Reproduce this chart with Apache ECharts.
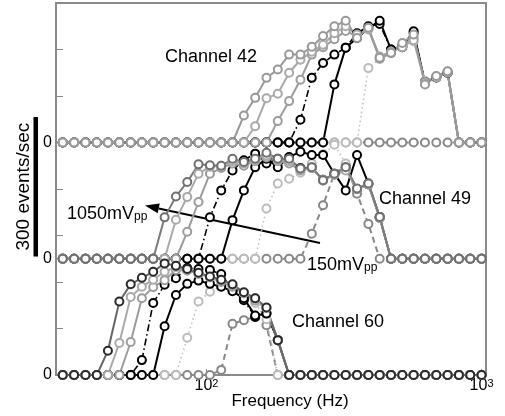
<!DOCTYPE html>
<html><head><meta charset="utf-8">
<script src="https://cdn.jsdelivr.net/npm/echarts@6/dist/echarts.min.js"></script>
<style>html,body{margin:0;padding:0;background:#fff}#c{width:505px;height:416px}</style>
</head><body><div id="c"></div>
<script>
// Stimulus frequencies (Hz), 38 log-spaced steps from 30 Hz to 1 kHz
const freqs = [30.0,33.0,36.3,39.9,43.8,48.2,53.0,58.2,64.0,70.4,77.4,85.1,93.5,102.9,113.1,124.3,136.7,150.3,165.2,181.6,199.7,219.5,241.4,265.3,291.7,320.7,352.6,387.7,426.2,468.6,515.1,566.3,622.7,684.6,752.6,827.4,909.7,1000];
const xTickExponents = [2, 3];
const yTickLabel = '0';

// Channel 42 (events/sec)
const ch42_1050 = [0,0,0,0,0,0,0,0,0,0,0,0,0,0,0,0,58,96,139,157,189,189,206,229,250,262,225,247,182,193,214,232,125,143,153,0,0,0];
const ch42_900  = [0,0,0,0,0,0,0,0,0,0,0,0,0,0,0,0,0,35,95,105,150,178,195,210,235,250,232,243,185,195,205,220,128,140,150,0,0,0];
const ch42_750  = [0,0,0,0,0,0,0,0,0,0,0,0,0,0,0,0,0,0,0,46,89,135,189,205,222,240,228,245,180,192,208,225,130,142,152,0,0,0];
const ch42_600  = [0,0,0,0,0,0,0,0,0,0,0,0,0,0,0,0,0,0,0,0,0,49,139,171,189,204,235,250,255,200,205,236,130,140,150,0,0,0];
const ch42_450  = [0,0,0,0,0,0,0,0,0,0,0,0,0,0,0,0,0,0,0,0,0,0,0,0,125,204,225,245,262,200,207,239,128,140,150,0,0,0];
const ch42_300  = [0,0,0,0,0,0,0,0,0,0,0,0,0,0,0,0,0,0,0,0,0,0,0,0,0,0,0,160,180,193,205,218,132,141,152,0,0,0];
const ch42_150  = [0,0,0,0,0,0,0,0,0,0,0,0,0,0,0,0,0,0,0,0,0,0,0,0,0,0,0,0,0,0,0,0,0,0,0,0,0,0];

// Channel 49
const ch49_1050 = [0,0,0,0,0,0,0,0,0,89,134,165,203,201,200,215,208,215,228,215,215,194,197,169,183,197,151,162,90,0,0,0,0,0,0,0,0,0];
const ch49_900  = [0,0,0,0,0,0,0,0,0,0,84,133,183,198,200,210,205,212,222,212,210,192,195,170,180,190,150,160,88,0,0,0,0,0,0,0,0,0];
const ch49_750  = [0,0,0,0,0,0,0,0,0,0,0,58,122,183,195,205,200,210,218,210,205,190,195,168,182,195,150,160,88,0,0,0,0,0,0,0,0,0];
const ch49_600  = [0,0,0,0,0,0,0,0,0,0,0,0,0,89,147,190,212,226,205,215,210,195,196,170,182,196,150,160,88,0,0,0,0,0,0,0,0,0];
const ch49_450  = [0,0,0,0,0,0,0,0,0,0,0,0,0,0,0,83,147,197,215,197,219,230,223,223,183,147,223,162,90,0,0,0,0,0,0,0,0,0];
const ch49_300  = [0,0,0,0,0,0,0,0,0,0,0,0,0,0,0,0,0,0,108,162,172,185,205,225,245,205,150,160,88,0,0,0,0,0,0,0,0,0];
const ch49_150  = [0,0,0,0,0,0,0,0,0,0,0,0,0,0,0,0,0,0,0,0,0,0,54,115,183,201,140,75,0,0,0,0,0,0,0,0,0,0];

// Channel 60
const ch60_1050 = [0,0,0,0,52,158,195,209,222,240,235,228,220,212,205,195,178,165,145,75,0,0,0,0,0,0,0,0,0,0,0,0,0,0,0,0,0,0];
const ch60_900  = [0,0,0,0,0,69,168,190,205,222,232,225,218,210,203,193,176,165,144,75,0,0,0,0,0,0,0,0,0,0,0,0,0,0,0,0,0,0];
const ch60_750  = [0,0,0,0,0,0,71,165,189,204,226,225,218,210,200,190,176,160,144,75,0,0,0,0,0,0,0,0,0,0,0,0,0,0,0,0,0,0];
const ch60_600  = [0,0,0,0,0,0,0,32,155,194,208,230,228,226,217,183,161,125,133,75,0,0,0,0,0,0,0,0,0,0,0,0,0,0,0,0,0,0];
const ch60_450  = [0,0,0,0,0,0,0,0,0,105,172,196,203,196,190,180,165,128,132,75,0,0,0,0,0,0,0,0,0,0,0,0,0,0,0,0,0,0];
const ch60_300  = [0,0,0,0,0,0,0,0,0,0,0,80,158,179,190,185,170,155,120,0,0,0,0,0,0,0,0,0,0,0,0,0,0,0,0,0,0,0];
const ch60_150  = [0,0,0,0,0,0,0,0,0,0,0,0,0,0,11,110,118,125,107,0,0,0,0,0,0,0,0,0,0,0,0,0,0,0,0,0,0,0];

const channels = [
  {offset: 500, d: {150: ch42_150, 300: ch42_300, 450: ch42_450, 600: ch42_600, 750: ch42_750, 900: ch42_900, 1050: ch42_1050}, line1050: '#999999', mark1050: '#999999'},
  {offset: 250, d: {150: ch49_150, 300: ch49_300, 450: ch49_450, 600: ch49_600, 750: ch49_750, 900: ch49_900, 1050: ch49_1050}, line1050: '#7c7c7c', mark1050: '#707070'},
  {offset: 0,   d: {150: ch60_150, 300: ch60_300, 450: ch60_450, 600: ch60_600, 750: ch60_750, 900: ch60_900, 1050: ch60_1050}, line1050: '#666666', mark1050: '#2a2a2a'}
];

// drawing order bottom -> top
const drawOrder = [150, 300, 600, 450, 750, 900, 1050];
function styleFor(level, ch) {
  switch (level) {
    case 150: return {color: '#888888', width: 2, type: [6, 4]};
    case 300: return {color: '#bdbdbd', width: 1.5, type: [1.5, 3]};
    case 600: return {color: '#000000', width: 1.6, type: [7, 3, 1.5, 3]};
    case 450: return {color: '#000000', width: 2, type: 'solid'};
    case 750: return {color: '#9c9c9c', width: 2, type: 'solid'};
    case 900: return {color: '#a9a9a9', width: 2, type: 'solid'};
    case 1050: return {color: ch.line1050, mark: ch.mark1050, width: 2, type: 'solid'};
  }
}

const series = [];
channels.forEach(ch => {
  drawOrder.forEach(level => {
    const st = styleFor(level, ch);
    const mk = st.mark || st.color;
    series.push({
      type: 'line',
      clip: false,
      data: freqs.map((f, i) => [f, ch.d[level][i] + ch.offset]),
      symbol: 'emptyCircle',
      symbolSize: 8,
      lineStyle: {color: st.color, width: st.width, type: st.type},
      itemStyle: {color: mk, borderColor: mk, borderWidth: 2},
      emphasis: {disabled: true},
      animation: false
    });
  });
});

const FONT = 'Liberation Sans, Arial, sans-serif';
const chart = echarts.init(document.getElementById('c'), null, {renderer: 'canvas'});
const option = {
  backgroundColor: '#ffffff',
  animation: false,
  grid: {left: 56, right: 19, top: 3, bottom: 41, show: true, borderColor: '#8a8a8a', borderWidth: 2, backgroundColor: 'transparent'},
  xAxis: {
    type: 'log', logBase: 10, min: 28.36, max: 1038,
    axisLine: {show: false},
    splitLine: {show: false},
    minorTick: {show: false},
    axisTick: {show: true, inside: true, length: 6, lineStyle: {color: '#8a8a8a', width: 1}},
    axisLabel: {
      margin: 3,
      formatter: function (v) {
        const e = Math.log10(v), r = Math.round(e);
        if (Math.abs(e - r) < 1e-6 && xTickExponents.indexOf(r) >= 0) return '{b|10}{s|' + r + '}';
        return '';
      },
      rich: {
        b: {fontSize: 16, lineHeight: 16, fontFamily: FONT, color: '#000', verticalAlign: 'bottom', padding: [5, 0, 0, 0]},
        s: {fontSize: 11, lineHeight: 11, fontFamily: FONT, color: '#000', verticalAlign: 'top'}
      },
      showMinLabel: false, showMaxLabel: true
    }
  },
  yAxis: [
    {type: 'value', min: 0, max: 800, interval: 100, position: 'left',
     axisLine: {show: false}, splitLine: {show: false}, axisLabel: {show: false},
     axisTick: {show: true, inside: true, length: 7, lineStyle: {color: '#8a8a8a', width: 1}}},
    {type: 'value', min: 0, max: 800, interval: 250, position: 'left',
     axisLine: {show: false}, splitLine: {show: false}, axisTick: {show: false},
     axisLabel: {margin: 4, fontSize: 16, fontFamily: FONT, color: '#000',
       formatter: v => (v === 0 || v === 250 || v === 500) ? yTickLabel : ''}}
  ],
  series: series,
  graphic: []
};
chart.setOption(option);

// annotations
const yTop = chart.convertToPixel({yAxisIndex: 0}, 555);
const yBot = chart.convertToPixel({yAxisIndex: 0}, 255);
const txt = (t, x, y, size, extra) => Object.assign({type: 'text', x: x, y: y, silent: true,
  style: Object.assign({text: t, fontSize: size, fontFamily: FONT, fill: '#000', textVerticalAlign: 'middle'}, extra || {})});
const tip = [145, 205.5], tail = [320, 243];
const dx = tip[0] - tail[0], dy = tip[1] - tail[1], L = Math.hypot(dx, dy);
const ux = dx / L, uy = dy / L, hl = 14, hw = 5;
const bx = tip[0] - ux * hl, by = tip[1] - uy * hl;
const subRich = {a: {fontSize: 18, lineHeight: 18, verticalAlign: 'top', fontFamily: FONT}, b: {fontSize: 12, lineHeight: 12, verticalAlign: 'bottom', padding: [10, 0, 0, 0], fontFamily: FONT}};
chart.setOption({graphic: [
  {type: 'rect', silent: true, shape: {x: 33.5, y: yTop, width: 4.5, height: yBot - yTop}, style: {fill: '#000'}},
  {type: 'text', silent: true, x: 24, y: (yTop + yBot) / 2, rotation: Math.PI / 2,
   style: {text: '300 events/sec', fontSize: 19, fontFamily: FONT, fill: '#000', textAlign: 'center', textVerticalAlign: 'middle'}},
  txt('Channel 42', 165, 57, 18),
  txt('Channel 49', 379, 199, 18),
  txt('Channel 60', 292, 322, 18),
  {type: 'text', silent: true, x: 67, y: 205, style: {text: '{a|1050mV}{b|pp}', fontFamily: FONT, fill: '#000', rich: subRich}},
  {type: 'text', silent: true, x: 307, y: 256, style: {text: '{a|150mV}{b|pp}', fontFamily: FONT, fill: '#000', rich: subRich}},
  {type: 'line', silent: true, shape: {x1: tail[0], y1: tail[1], x2: bx, y2: by}, style: {stroke: '#000', lineWidth: 2}},
  {type: 'polygon', silent: true, shape: {points: [tip, [bx + (-uy) * hw, by + ux * hw], [bx - (-uy) * hw, by - ux * hw]]}, style: {fill: '#000'}},
  txt('Frequency (Hz)', 290, 401, 17, {textAlign: 'center'})
]});
</script></body></html>
